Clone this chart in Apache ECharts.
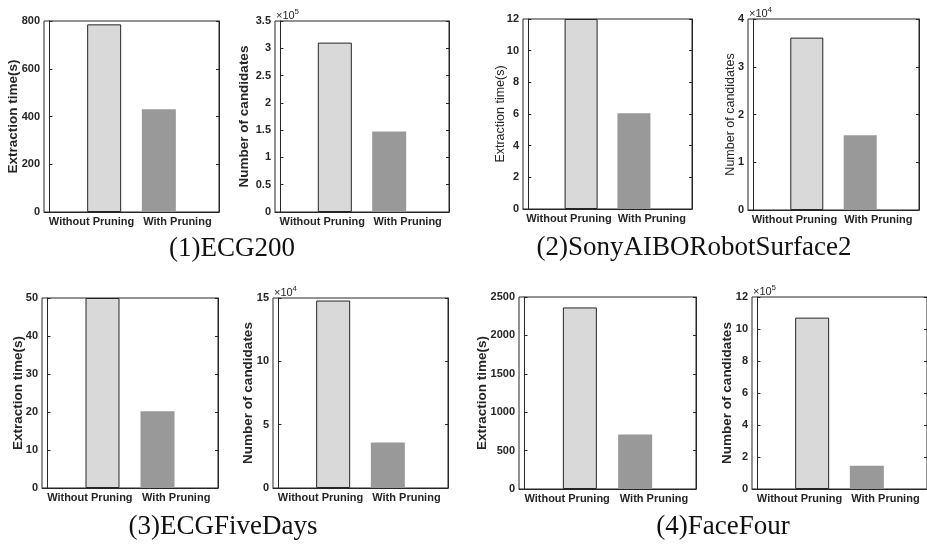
<!DOCTYPE html>
<html>
<head>
<meta charset="utf-8">
<script src="https://cdn.jsdelivr.net/npm/echarts@6/dist/echarts.min.js"></script>
<style>
  html, body { margin: 0; padding: 0; background: #fff; }
  #main { width: 927px; height: 549px; }
</style>
</head>
<body>
<div id="main"></div>
<script>
// Bar categories shared by every subplot
const categories = ['Without Pruning', 'With Pruning'];

// Extraction time (seconds) and number of candidates per dataset
const ecg200Time = [786, 430];
const ecg200Cand = [310400, 147300];
const sonyTime = [12, 6.05];
const sonyCand = [36100, 15640];
const fiveDaysTime = [50, 20.2];
const fiveDaysCand = [148000, 35900];
const faceFourTime = [2364, 710];
const faceFourCand = [1071000, 146000];

// Y axis ranges: max, step and the power of ten shown above the axis
const yMaxes = [800, 3.5e5, 12, 4e4, 50, 15e4, 2500, 12e5];
const ySteps = [200, 0.5e5, 2, 1e4, 10, 5e4, 500, 2e5];
const yExps = [0, 5, 0, 4, 0, 4, 0, 5];

// Where the category names sit along the x axis
const xLabelAt = [0.77, 2.34];

const captions = ['(1)ECG200', '(2)SonyAIBORobotSurface2', '(3)ECGFiveDays', '(4)FaceFour'];

const timeName = 'Extraction time(s)';
const candName = 'Number of candidates';

const sans = '"Liberation Sans", Arial, Helvetica, sans-serif';
const serif = '"Liberation Serif", "Times New Roman", serif';
const ink = '#262626';

// Subplot frames
const panels = [
  { values: ecg200Time,   name: timeName, grid: { left: 44,  top: 21,  width: 175, height: 191 }, gap: 23.5, bold: true },
  { values: ecg200Cand,   name: candName, grid: { left: 275, top: 21,  width: 174, height: 191 }, gap: 23.5, bold: true },
  { values: sonyTime,     name: timeName, grid: { left: 523, top: 19,  width: 169, height: 190 }, gap: 15.5, bold: false },
  { values: sonyCand,     name: candName, grid: { left: 748, top: 19,  width: 171, height: 191 }, gap: 10.5, bold: false },
  { values: fiveDaysTime, name: timeName, grid: { left: 42,  top: 298, width: 176, height: 190 }, gap: 17, bold: true },
  { values: fiveDaysCand, name: candName, grid: { left: 273, top: 298, width: 175, height: 190 }, gap: 17.5, bold: true },
  { values: faceFourTime, name: timeName, grid: { left: 519, top: 297, width: 177, height: 192 }, gap: 29.5, bold: true },
  { values: faceFourCand, name: candName, grid: { left: 752, top: 297, width: 175, height: 192 }, gap: 17.5, bold: true }
];

const captionPos = [
  { x: 232, y: 249 }, { x: 694, y: 248 },
  { x: 223, y: 527 }, { x: 723, y: 527 }
];

const barStyles = [
  { color: '#d9d9d9', borderColor: ink, borderWidth: 1 },
  { color: '#999999', borderColor: '#999999', borderWidth: 0 }
];

const grids = [], xAxes = [], yAxes = [], series = [], graphics = [];

panels.forEach((p, i) => {
  const scale = Math.pow(10, yExps[i]);
  grids.push(Object.assign({
    show: true, borderColor: ink, borderWidth: 1, backgroundColor: '#fff', containLabel: false
  }, p.grid));

  xAxes.push({
    type: 'value', gridIndex: i, min: -0.1, max: 3.1,
    splitLine: { show: false },
    axisLine: { show: true, lineStyle: { color: ink, width: 1 } },
    axisTick: { show: false },
    axisLabel: {
      customValues: xLabelAt,
      showMinLabel: true, showMaxLabel: true, hideOverlap: false,
      formatter: v => categories[v < 1.5 ? 0 : 1],
      color: ink, fontFamily: sans, fontWeight: 'bold', fontSize: 11, margin: 4
    }
  });

  const yCommon = {
    type: 'value', gridIndex: i, min: 0, max: yMaxes[i], interval: ySteps[i],
    splitLine: { show: false },
    axisLine: { show: true, lineStyle: { color: ink, width: 1 } },
    axisTick: { show: true, inside: true, length: 3, lineStyle: { color: ink } }
  };
  yAxes.push(Object.assign({}, yCommon, {
    position: 'left',
    name: p.name, nameLocation: 'middle', nameGap: p.gap, nameRotate: 90,
    nameMoveOverlap: false,
    nameTextStyle: {
      color: ink, fontFamily: sans,
      fontWeight: p.bold ? 'bold' : 'normal',
      fontSize: p.bold ? 13.5 : 12.5
    },
    axisLabel: {
      formatter: v => String(+(v / scale).toFixed(2)),
      color: ink, fontFamily: sans, fontWeight: 'bold', fontSize: 11, margin: 4
    }
  }));
  yAxes.push(Object.assign({}, yCommon, {
    position: 'right', axisLabel: { show: false }
  }));

  series.push({
    type: 'bar', xAxisIndex: i, yAxisIndex: 2 * i,
    barWidth: Math.round(p.grid.width * 0.194),
    data: categories.map((c, k) => ({ value: [k + 1, p.values[k]], itemStyle: barStyles[k] })),
    clip: true, silent: true
  });

  // Exponent marker above the y axis
  if (yExps[i] > 0) {
    graphics.push({
      type: 'text', x: p.grid.left + 1, y: p.grid.top - 5.5,
      style: { text: '×10', font: '11px ' + sans, fill: ink, verticalAlign: 'middle', align: 'left' }
    });
    graphics.push({
      type: 'text', x: p.grid.left + 19.5, y: p.grid.top - 9,
      style: { text: String(yExps[i]), font: '8px ' + sans, fill: ink, verticalAlign: 'middle', align: 'left' }
    });
  }
});

captions.forEach((t, i) => {
  graphics.push({
    type: 'text', x: captionPos[i].x, y: captionPos[i].y,
    style: { text: t, font: '27px ' + serif, fill: '#111', align: 'center', verticalAlign: 'middle' }
  });
});

const chart = echarts.init(document.getElementById('main'));
chart.setOption({
  animation: false,
  backgroundColor: '#fff',
  grid: grids,
  xAxis: xAxes,
  yAxis: yAxes,
  series: series,
  graphic: graphics
});
</script>
</body>
</html>
